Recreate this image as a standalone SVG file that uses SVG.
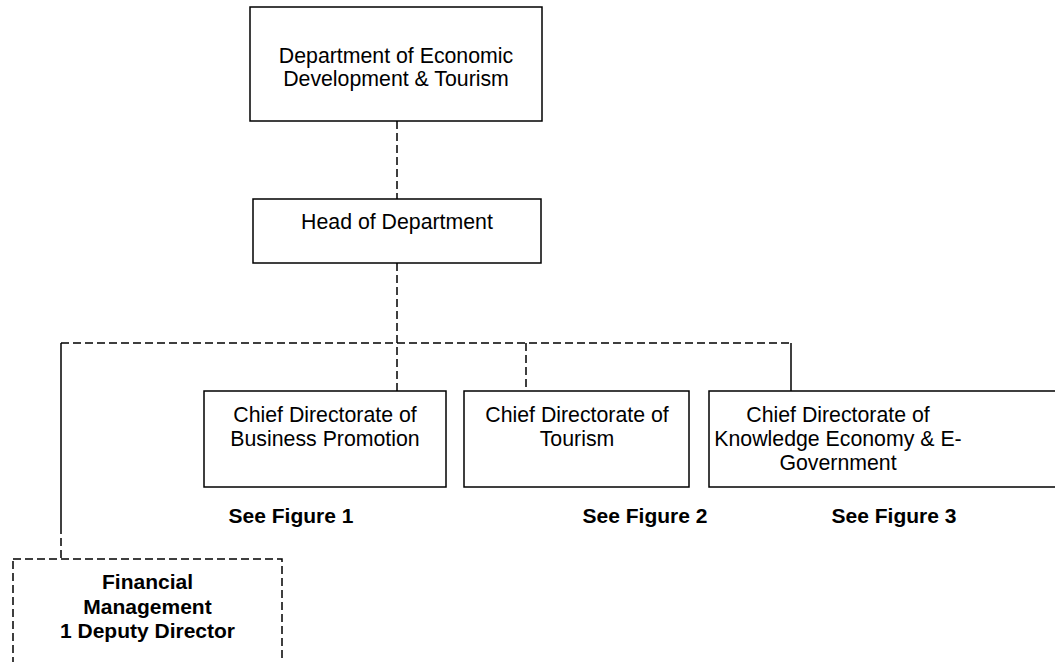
<svg xmlns="http://www.w3.org/2000/svg" width="1055" height="662" viewBox="0 0 1055 662">
<style>
.box{fill:#fff;stroke:#000;stroke-width:1.5}
.dbox{fill:#fff;stroke:#000;stroke-width:1.5;stroke-dasharray:8 4}
.t{font-family:"Liberation Sans",Arial,sans-serif;font-size:21.3px;fill:#000;text-anchor:middle}
.b{font-family:"Liberation Sans",Arial,sans-serif;font-size:21px;font-weight:bold;fill:#000;text-anchor:middle}
.c{fill:none;stroke:#000;stroke-width:1.5}
.d{stroke-dasharray:8 4}
</style>
<rect width="1055" height="662" fill="#fff"/>
<g id="connectors">
<line class="c d" x1="397" y1="121" x2="397" y2="199"/>
<line class="c d" x1="397" y1="263" x2="397" y2="391"/>
<line class="c d" x1="61" y1="343" x2="791" y2="343"/>
<line class="c" x1="61" y1="343" x2="61" y2="534"/>
<line class="c d" x1="61" y1="538" x2="61" y2="559"/>
<line class="c d" x1="526" y1="343" x2="526" y2="391"/>
<line class="c" x1="791" y1="343" x2="791" y2="391"/>
</g>
<g id="dept">
<rect class="box" x="250" y="7" width="292" height="114"/>
<text class="t" x="396" y="63">Department of Economic</text>
<text class="t" x="396" y="86">Development &amp; Tourism</text>
</g>
<g id="head">
<rect class="box" x="253" y="199" width="288" height="64"/>
<text class="t" x="397" y="229">Head of Department</text>
</g>
<g id="business">
<rect class="box" x="204" y="391" width="242" height="96"/>
<text class="t" x="325" y="422">Chief Directorate of</text>
<text class="t" x="325" y="446">Business Promotion</text>
</g>
<g id="tourism">
<rect class="box" x="464" y="391" width="225" height="96"/>
<text class="t" x="577" y="422">Chief Directorate of</text>
<text class="t" x="577" y="446">Tourism</text>
</g>
<g id="knowledge">
<rect class="box" x="709" y="391" width="360" height="96"/>
<text class="t" x="838" y="422">Chief Directorate of</text>
<text class="t" x="838" y="446">Knowledge Economy &amp; E-</text>
<text class="t" x="838" y="470">Government</text>
</g>
<g id="labels">
<text class="b" x="291" y="523">See Figure 1</text>
<text class="b" x="645" y="523">See Figure 2</text>
<text class="b" x="894" y="523">See Figure 3</text>
</g>
<g id="financial">
<rect class="dbox" x="13" y="559" width="269" height="120"/>
<text class="b" x="147.5" y="589">Financial</text>
<text class="b" x="147.5" y="614">Management</text>
<text class="b" x="147.5" y="638">1 Deputy Director</text>
</g>
</svg>
